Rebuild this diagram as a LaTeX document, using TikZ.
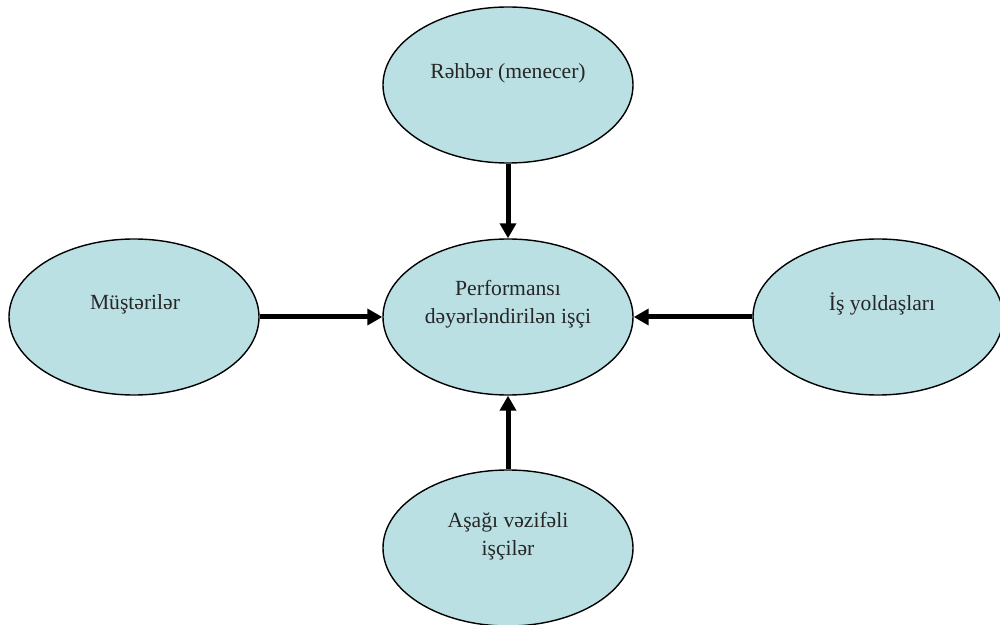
\documentclass[tikz,border=0pt]{standalone}
\usepackage{fontspec}
\setmainfont{Liberation Serif}
\usetikzlibrary{shapes.geometric,arrows.meta}
\definecolor{ellfill}{HTML}{BAE0E3}
\begin{document}
\begin{tikzpicture}[x=0.5pt,y=-0.5pt,
  ell/.style={ellipse, draw=black, line width=0.7pt, fill=ellfill,
    minimum width=125pt, minimum height=78pt, inner sep=0pt},
  lbl/.style={font=\fontsize{10.8}{14}\selectfont, align=center, text=black!85},
  conn/.style={line width=2.5pt, -{Triangle[length=7.5pt,width=8pt]}}]
\useasboundingbox (0,0) rectangle (1000,625);
\node[ell] (top) at (508,85) {};
\node[ell] (mid) at (508,317) {};
\node[ell] (bot) at (508,548) {};
\node[ell] (left) at (134,317) {};
\node[ell] (right) at (878,317) {};
\node[lbl] (ttop) at (508,73) {Rəhbər (menecer)};
\node[lbl] (tmid) at (508,304) {Performansı\\dəyərləndirilən işçi};
\node[lbl] (tbot) at (508,536) {Aşağı vəzifəli\\işçilər};
\node[lbl] (tleft) at (135,304) {Müştərilər};
\node[lbl] (tright) at (882,304) {İş yoldaşları};
\draw[conn] (top.south) -- (mid.north);
\draw[conn] (bot.north) -- (mid.south);
\draw[conn] (left.east) -- (mid.west);
\draw[conn] (right.west) -- (mid.east);
\end{tikzpicture}
\end{document}
